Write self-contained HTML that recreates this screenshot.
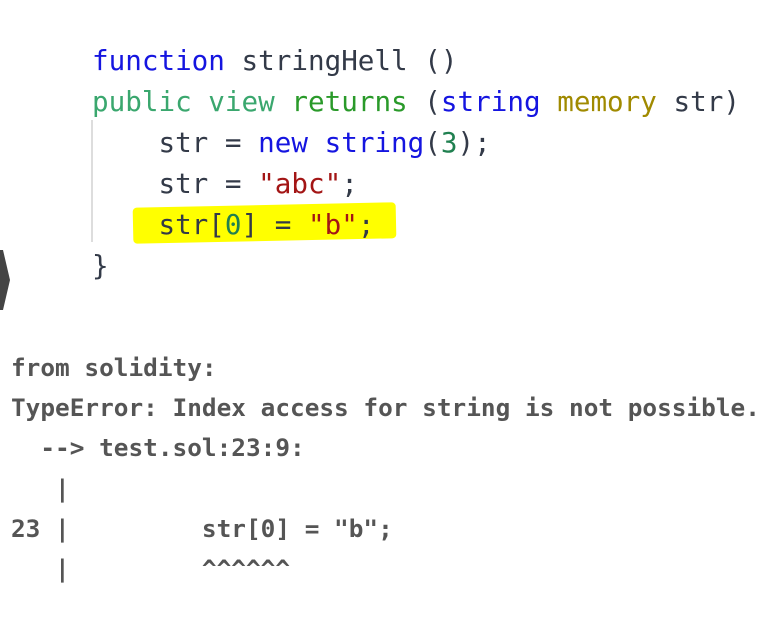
<!DOCTYPE html>
<html><head><style>
body{margin:0;width:769px;height:619px;background:#fff;overflow:hidden;position:relative;font-family:"DejaVu Sans Mono","Liberation Mono",monospace;}
.c{position:absolute;left:92px;top:40px;font-size:27.6px;line-height:41px;white-space:pre;color:#333a48;}
.e{position:absolute;left:11px;top:348px;font-size:24.4px;line-height:40.2px;white-space:pre;color:#555;font-weight:bold;}
.b{color:#1515e0}.g{color:#3aa76e}.gr{color:#2a9a2a}.o{color:#a08a00}.r{color:#a31515}.n{color:#208050}
</style></head><body>
<div style="position:absolute;left:133px;top:205px;width:263px;height:36px;background:#ffff00;transform:rotate(-1.2deg);border-radius:4px"></div>
<div style="position:absolute;left:91px;top:120px;width:2px;height:122px;background:#ddd"></div>
<svg style="position:absolute;left:0;top:250px" width="12" height="60"><polygon points="0,0 3,0 10,30 3,60 0,60" fill="#444"/></svg>
<div class="c"><span class="b">function</span> stringHell ()
<span class="g">public view</span> <span class="gr">returns</span> (<span class="b">string</span> <span class="o">memory</span> str)
    str = <span class="b">new string</span>(<span class="n">3</span>);
    str = <span class="r">"abc"</span>;
    str[<span class="n">0</span>] = <span class="r">"b"</span>;
}</div>
<div class="e">from solidity:
TypeError: Index access for string is not possible.
  --> test.sol:23:9:
   |
23 |         str[0] = "b";
   |         ^^^^^^</div>
</body></html>
